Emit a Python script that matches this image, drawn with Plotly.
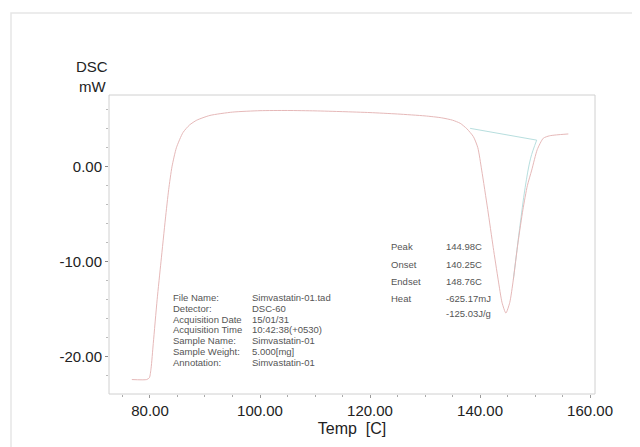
import plotly.graph_objects as go

# DSC curve
temp = [76.7, 79.4, 79.9, 80.2, 80.6, 81.3, 82.0, 82.8, 83.4, 84.0, 84.8, 86.0, 87.2, 88.5, 90.9,
        95.0, 100.0, 105.0, 110.0, 115.0, 120.0, 125.0, 130.0, 133.0, 135.0, 136.4, 137.6, 138.8,
        139.6, 140.3, 141.4, 142.4, 143.3, 144.0, 144.7, 145.4, 146.05, 146.9, 147.8, 148.6,
        149.4, 150.4, 151.5, 152.6, 153.9, 156.05]
dsc = [-22.4, -22.4, -22.2, -21.2, -18.6, -14.0, -10.0, -5.5, -2.4, 0.0, 2.0, 3.6, 4.4, 4.9, 5.4,
       5.75, 5.9, 5.92, 5.88, 5.8, 5.7, 5.55, 5.35, 5.15, 4.9, 4.57, 4.0, 3.16,
       2.0, -0.35, -4.5, -8.5, -11.9, -14.3, -15.4, -14.3, -11.9, -8.0, -4.5, -2.0,
       -0.35, 1.8, 3.0, 3.25, 3.35, 3.45]

# analysis baseline and fitted peak trace
base_t = [138.2, 144.0, 150.3]
base_y = [4.04, 3.45, 2.8]
fit_t = [146.05, 147.2, 148.2, 149.2, 150.3]
fit_y = [-11.9, -6.5, -2.2, 0.9, 2.8]

x_ticks = [80, 100, 120, 140, 160]
y_ticks = [-20, -10, 0]

info_labels = ["File Name:", "Detector:", "Acquisition Date", "Acquisition Time",
               "Sample Name:", "Sample Weight:", "Annotation:"]
info_values = ["Simvastatin-01.tad", "DSC-60", "15/01/31", "10:42:38(+0530)",
               "Simvastatin-01", "5.000[mg]", "Simvastatin-01"]
peak_labels = ["Peak", "Onset", "Endset", "Heat", ""]
peak_values = ["144.98C", "140.25C", "148.76C", "-625.17mJ", "-125.03J/g"]

OFF = 8  # page body margin
W, H = 640 - OFF, 447 - OFF
L, R, T, B = 109 - OFF, 45, 95 - OFF, 53
PW, PH = W - L - R, H - T - B

def px(x):
    return (x - OFF - L) / PW

def py(y):
    return (H - B - (y - OFF)) / PH

fig = go.Figure()
fig.add_trace(go.Scatter(x=base_t, y=base_y, mode="lines",
                         line=dict(color="rgba(175,218,218,0.9)", width=1), hoverinfo="skip"))
fig.add_trace(go.Scatter(x=fit_t, y=fit_y, mode="lines", line_shape="spline",
                         line=dict(color="rgba(175,218,218,0.9)", width=1), hoverinfo="skip"))
fig.add_trace(go.Scatter(x=temp, y=dsc, mode="lines", line_shape="spline",
                         line=dict(color="rgba(228,180,180,0.95)", width=1, smoothing=0.6)))

ann = []
font_small = dict(family="Liberation Sans, Arial", size=9.5, color="#555")
for i, (a, b) in enumerate(zip(info_labels, info_values)):
    y = 297.5 + i * 10.8
    ann.append(dict(x=px(171), y=py(y), xref="paper", yref="paper", text=a, showarrow=False,
                    xanchor="left", yanchor="middle", font=font_small))
    ann.append(dict(x=px(250), y=py(y), xref="paper", yref="paper", text=b, showarrow=False,
                    xanchor="left", yanchor="middle", font=font_small))
peak_y = [246.5, 264.0, 281.7, 298.3, 313.8]
for a, b, y in zip(peak_labels, peak_values, peak_y):
    if a:
        ann.append(dict(x=px(389), y=py(y), xref="paper", yref="paper", text=a, showarrow=False,
                        xanchor="left", yanchor="middle", font=font_small))
    ann.append(dict(x=px(444), y=py(y), xref="paper", yref="paper", text=b, showarrow=False,
                    xanchor="left", yanchor="middle", font=font_small))
font_big = dict(family="Liberation Sans, Arial", size=15, color="#222")
ann.append(dict(x=px(110), y=py(66), xref="paper", yref="paper", text="DSC", showarrow=False,
                xanchor="right", yanchor="middle", font=font_big))
ann.append(dict(x=px(108), y=py(86), xref="paper", yref="paper", text="mW", showarrow=False,
                xanchor="right", yanchor="middle", font=font_big))

fig.update_layout(
    width=W, height=H,
    margin=dict(l=L, r=R, t=T, b=B),
    paper_bgcolor="white", plot_bgcolor="white",
    showlegend=False,
    annotations=ann,
    shapes=[dict(type="rect", xref="paper", yref="paper",
                 x0=px(11), x1=px(660), y0=py(470), y1=py(13),
                 line=dict(color="#e6e6e6", width=1.5), layer="below"),
            dict(type="rect", xref="paper", yref="paper", x0=0, x1=1, y0=0, y1=1,
                 line=dict(color="#d0d0d0", width=1), layer="below")],
    xaxis=dict(range=[72.55, 160.9], tickvals=x_ticks,
               ticktext=[f"{v:.2f}" for v in x_ticks],
               showgrid=False, zeroline=False, showline=False,
               ticks="outside", ticklen=3, tickcolor="#999",
               minor=dict(dtick=5, tick0=0, ticks="outside", ticklen=2, tickcolor="#aaa"),
               tickfont=dict(family="Liberation Sans, Arial", size=15, color="#222"),
               title=dict(text="Temp  [C]", standoff=4,
                          font=dict(family="Liberation Sans, Arial", size=16, color="#222"))),
    yaxis=dict(range=[-23.92, 7.55], tickvals=y_ticks,
               ticktext=[f"{v:.2f}" for v in y_ticks],
               showgrid=False, zeroline=False, showline=False,
               ticks="outside", ticklen=3, tickcolor="#888",
               minor=dict(dtick=2, tick0=0, ticks="outside", ticklen=2, tickcolor="#bbb"),
               tickfont=dict(family="Liberation Sans, Arial", size=15, color="#222")),
)

fig.write_html("out.html")
